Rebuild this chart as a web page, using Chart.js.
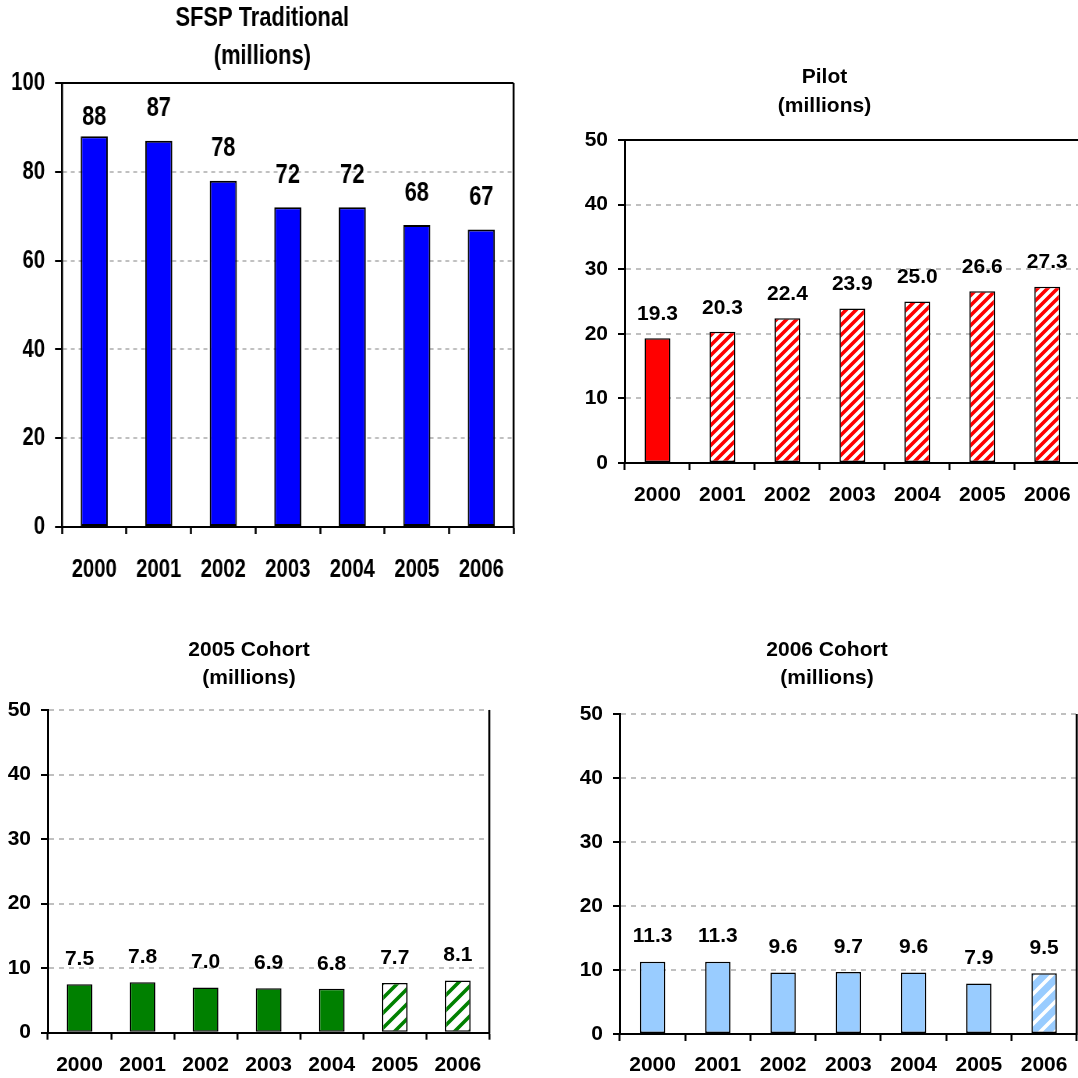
<!DOCTYPE html>
<html>
<head>
<meta charset="utf-8">
<title>Meals served (millions)</title>
<script src="https://cdn.jsdelivr.net/npm/chart.js@4.4.1/dist/chart.umd.min.js"></script>
<style>
  html, body { margin: 0; padding: 0; background: #fff; }
  body { width: 1078px; height: 1078px; overflow: hidden; position: relative; }
  .panel { position: absolute; transform-origin: 0 0; }
  .panel canvas { display: block; }
</style>
</head>
<body>
<div class="panel" id="traditionalBox"><canvas id="traditional"></canvas></div>
<div class="panel" id="pilotBox"><canvas id="pilot"></canvas></div>
<div class="panel" id="cohort2005Box"><canvas id="cohort2005"></canvas></div>
<div class="panel" id="cohort2006Box"><canvas id="cohort2006"></canvas></div>
<script>
// ---- data ----
const years = ['2000', '2001', '2002', '2003', '2004', '2005', '2006'];
const traditionalValues = [88, 87, 78, 72, 72, 68, 67];
const pilotValues = [19.3, 20.3, 22.4, 23.9, 25.0, 26.6, 27.3];
const cohort2005Values = [7.5, 7.8, 7.0, 6.9, 6.8, 7.7, 8.1];
const cohort2006Values = [11.3, 11.3, 9.6, 9.7, 9.6, 7.9, 9.5];
const traditionalTicks = [0, 20, 40, 60, 80, 100];
const smallTicks = [0, 10, 20, 30, 40, 50];

// ---- fonts ----
const SANS = "'Liberation Sans', Arial, Helvetica, sans-serif";
Chart.defaults.color = '#000';
Chart.defaults.animation = false;

// ---- diagonal hatch fill ("/" stripes) ----
function hatch(stripe, ground, period, width) {
  const tile = document.createElement('canvas');
  tile.width = period; tile.height = period;
  const t = tile.getContext('2d');
  t.fillStyle = ground;
  t.fillRect(0, 0, period, period);
  t.strokeStyle = stripe;
  t.lineWidth = width;
  t.lineCap = 'square';
  t.beginPath();
  t.moveTo(0, period); t.lineTo(period, 0);
  t.moveTo(-period / 2, period / 2); t.lineTo(period / 2, -period / 2);
  t.moveTo(period / 2, period * 1.5); t.lineTo(period * 1.5, period / 2);
  t.stroke();
  return document.createElement('canvas').getContext('2d').createPattern(tile, 'repeat');
}

// ---- plot frame (solid top / right edges) ----
const framePlugin = {
  id: 'frame',
  afterDatasetsDraw(chart, args, opts) {
    const { ctx, chartArea: a } = chart;
    ctx.save();
    ctx.strokeStyle = '#000';
    ctx.beginPath();
    if (opts.top) {
      ctx.lineWidth = 2;
      ctx.moveTo(a.left, a.top); ctx.lineTo(a.right, a.top);
      ctx.stroke();
      ctx.beginPath();
    }
    if (opts.right) {
      ctx.lineWidth = opts.sideWidth || 2;
      ctx.moveTo(a.right, a.top); ctx.lineTo(a.right, a.bottom + 1);
      ctx.stroke();
    }
    ctx.restore();
  }
};

// ---- value labels above the bars ----
const valueLabelPlugin = {
  id: 'valueLabels',
  afterDatasetsDraw(chart, args, opts) {
    const { ctx } = chart;
    const values = chart.data.datasets[0].data;
    const bars = chart.getDatasetMeta(0).data;
    ctx.save();
    ctx.font = opts.font;
    ctx.fillStyle = '#000';
    ctx.textAlign = 'center';
    ctx.textBaseline = 'middle';
    bars.forEach((bar, i) => {
      const lift = Array.isArray(opts.lift) ? opts.lift[i] : opts.lift;
      ctx.fillText(opts.format(values[i]), bar.x, bar.y - lift);
    });
    ctx.restore();
  }
};

// s.box is in page pixels; a panel with squeeze < 1 is laid out wider and
// compressed horizontally, which gives the condensed lettering of that panel.
function barChart(id, s) {
  const k = s.squeeze || 1;
  const el = document.getElementById(id);
  const wrap = document.getElementById(id + 'Box');
  el.width = Math.round(s.box.w / k); el.height = s.box.h;
  wrap.style.left = s.box.x + 'px';
  wrap.style.top = s.box.y + 'px';
  if (k !== 1) wrap.style.transform = 'scaleX(' + k + ')';
  return new Chart(el, {
    type: 'bar',
    data: {
      labels: years,
      datasets: [{
        data: s.values,
        backgroundColor: s.fills,
        borderColor: '#000',
        borderWidth: s.barBorder,
        borderSkipped: false,
        barPercentage: s.barPct,
        categoryPercentage: 1
      }]
    },
    options: {
      responsive: false,
      devicePixelRatio: 1,
      layout: { padding: { top: 0, left: 0, right: s.padRight / k, bottom: 0 } },
      plugins: {
        legend: { display: false },
        tooltip: { enabled: false },
        title: {
          display: true,
          text: s.title,
          color: '#000',
          font: { family: SANS, size: s.titleSize, weight: 'bold', lineHeight: s.titleLine },
          padding: s.titlePad
        },
        frame: Object.assign({ sideWidth: 2 / k }, s.frame),
        valueLabels: {
          font: 'bold ' + s.labelSize + 'px ' + SANS,
          lift: s.lift,
          format: s.format
        }
      },
      scales: {
        x: {
          afterFit(scale) { scale.height = s.xHeight; },
          border: { display: true, color: '#000', width: 2 },
          grid: {
            display: true, offset: true, drawOnChartArea: false, drawTicks: true,
            tickLength: 7, tickColor: '#000', tickWidth: 2 / k, color: '#000'
          },
          ticks: {
            autoSkip: false, maxRotation: 0, padding: s.xPad,
            font: { family: SANS, size: s.xSize, weight: 'bold' }
          }
        },
        y: {
          min: 0,
          max: s.ticks[s.ticks.length - 1],
          afterFit(scale) { scale.width = s.yWidth / k; },
          afterBuildTicks(scale) { scale.ticks = s.ticks.map(v => ({ value: v })); },
          border: { display: true, color: '#000', width: 2 / k, dash: [5, 5] },
          grid: {
            color: '#c0c0c0', lineWidth: 2,
            drawTicks: true, tickLength: 7 / k, tickColor: '#000', tickWidth: 2, tickBorderDash: []
          },
          ticks: {
            padding: 10 / k,
            font: { family: SANS, size: s.ySize, weight: 'bold' }
          }
        }
      }
    },
    plugins: [framePlugin, valueLabelPlugin]
  });
}

const BLUE = '#0000ff', RED = '#ff0000', GREEN = '#008000', SKY = '#99ccff';
const redHatch = hatch(RED, '#ffffff', 10, 3.6);
const greenHatch = hatch(GREEN, '#ffffff', 15, 3.6);
const skyHatch = hatch('#ffffff', SKY, 15, 3.6);

barChart('traditional', {
  box: { x: 8, y: -4, w: 512, h: 604 }, squeeze: 0.78,
  values: traditionalValues, ticks: traditionalTicks,
  fills: traditionalValues.map(() => BLUE),
  title: ['SFSP Traditional', '(millions)'],
  titleSize: 28, titleLine: 38 / 28, titlePad: { top: 3, bottom: 8 },
  labelSize: 28, xSize: 26, ySize: 26,
  xHeight: 73, xPad: 20, yWidth: 54, padRight: 3,
  barPct: 0.42, barBorder: 2,
  frame: { top: true, right: true },
  lift: [19, 32, 32, 32, 32, 32, 32],
  format: v => v.toFixed(0)
});

barChart('pilot', {
  box: { x: 566, y: 40, w: 517, h: 500 },
  values: pilotValues, ticks: smallTicks,
  fills: pilotValues.map((v, i) => i === 0 ? RED : redHatch),
  title: ['Pilot', '(millions)'],
  titleSize: 21, titleLine: 29 / 21, titlePad: { top: 22.5, bottom: 19.5 },
  labelSize: 21, xSize: 21, ySize: 21,
  xHeight: 77, xPad: 12.4, yWidth: 59, padRight: 0,
  barPct: 0.40, barBorder: 1.5,
  frame: { top: true, right: true },
  lift: 24,
  format: v => v.toFixed(1)
});

barChart('cohort2005', {
  box: { x: 6, y: 610, w: 488, h: 468 },
  values: cohort2005Values, ticks: smallTicks,
  fills: cohort2005Values.map((v, i) => i < 5 ? GREEN : greenHatch),
  title: ['2005 Cohort', '(millions)'],
  titleSize: 21, titleLine: 28 / 21, titlePad: { top: 26, bottom: 18 },
  labelSize: 21, xSize: 21, ySize: 21,
  xHeight: 45.3, xPad: 12.7, yWidth: 42, padRight: 2,
  barPct: 0.41, barBorder: 1.5,
  frame: { top: false, right: true },
  lift: 25,
  format: v => v.toFixed(1)
});

barChart('cohort2006', {
  box: { x: 577, y: 610, w: 502, h: 468 },
  values: cohort2006Values, ticks: smallTicks,
  fills: cohort2006Values.map((v, i) => i < 6 ? SKY : skyHatch),
  title: ['2006 Cohort', '(millions)'],
  titleSize: 21, titleLine: 28 / 21, titlePad: { top: 26, bottom: 22 },
  labelSize: 21, xSize: 21, ySize: 21,
  xHeight: 44, xPad: 11.4, yWidth: 43, padRight: 2,
  barPct: 0.39, barBorder: 1.5,
  frame: { top: false, right: true },
  lift: 25,
  format: v => v.toFixed(1)
});
</script>
</body>
</html>
